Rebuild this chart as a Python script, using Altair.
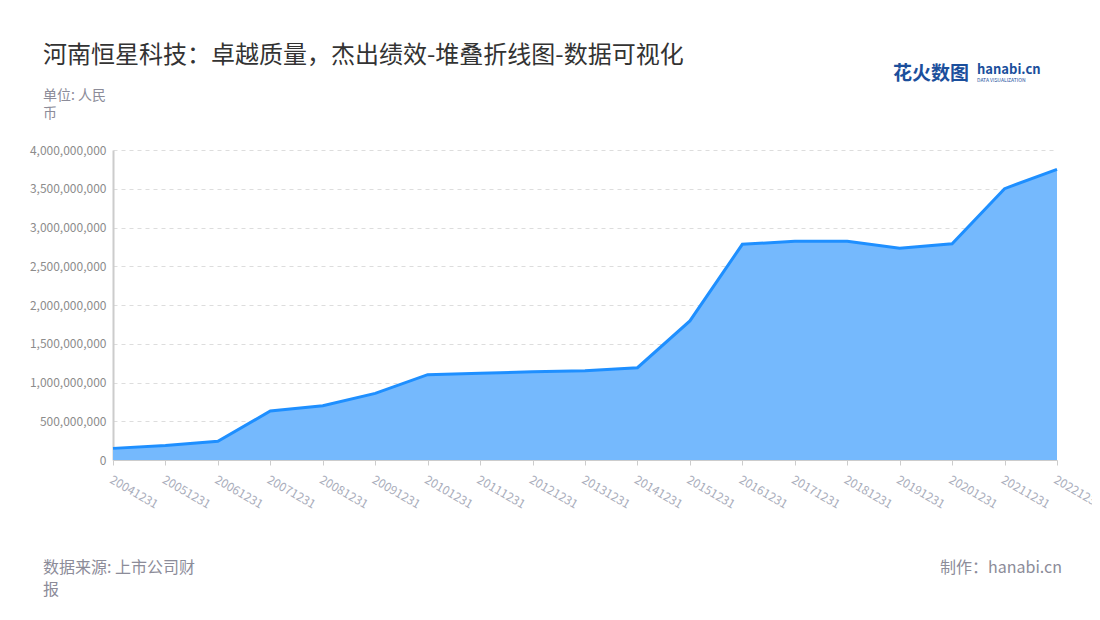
import altair as alt
import pandas as pd

dates = ["20041231", "20051231", "20061231", "20071231", "20081231", "20091231",
         "20101231", "20111231", "20121231", "20131231", "20141231", "20151231",
         "20161231", "20171231", "20181231", "20191231", "20201231", "20211231",
         "20221231"]
values = [150e6, 188e6, 242e6, 632e6, 700e6, 860e6,
          1101e6, 1118e6, 1138e6, 1152e6, 1191e6, 1794e6,
          2783e6, 2822e6, 2824e6, 2731e6, 2791e6, 3501e6,
          3751e6]
y_ticks = [0, 500000000, 1000000000, 1500000000, 2000000000, 2500000000,
           3000000000, 3500000000, 4000000000]

title_text = "河南恒星科技：卓越质量，杰出绩效-堆叠折线图-数据可视化"
unit_lines = ["单位: 人民", "币"]
source_lines = ["数据来源: 上市公司财", "报"]
maker_text = "制作：hanabi.cn"
logo_cn = "花火数图"
logo_en = "hanabi.cn"
logo_sub = "DATA VISUALIZATION"

df = pd.DataFrame({"date": dates, "value": values})

FONT = "Noto Sans CJK SC"
W, H = 944, 310

base = alt.Chart(df).encode(
    x=alt.X("date:O", sort=dates,
            scale=alt.Scale(type="point", padding=0),
            axis=alt.Axis(title=None, labelAngle=30, labelAlign="left", labelBaseline="top",
                          labelFontSize=12, labelColor="#a9adbb", labelFont=FONT,
                          labelPadding=9, tickSize=5, tickColor="#cccccc",
                          domainColor="#cccccc", grid=False, labelOverlap=False,
                          labelBound=False)),
    y=alt.Y("value:Q",
            scale=alt.Scale(domain=[0, 4000000000], nice=False, zero=True),
            axis=alt.Axis(title=None, values=y_ticks, format=",.0f", labelFontSize=12,
                          labelColor="#8c8c8c", labelFont=FONT, labelPadding=7,
                          ticks=False, domainColor="#cccccc", domainWidth=2,
                          grid=True, gridDash=[4, 4], gridColor="#dddddd")),
)

area = base.mark_area(color="#75b9fd", opacity=1)
line = base.mark_line(color="#1e8fff", strokeWidth=3)


def txt(s, x, y, size, color, align="left", weight="normal", baseline="alphabetic"):
    return alt.Chart(pd.DataFrame({"t": [s]})).mark_text(
        align=align, baseline=baseline, fontSize=size, color=color, font=FONT,
        fontWeight=weight
    ).encode(text="t:N", x=alt.value(x), y=alt.value(y))


texts = [
    txt(title_text, -70, -87, 24, "#333333"),
    txt(unit_lines[0], -70, -50, 14, "#8c8c99"),
    txt(unit_lines[1], -70, -32, 14, "#8c8c99"),
    txt(source_lines[0], -70, 423, 16, "#8c8c99"),
    txt(source_lines[1], -70, 445, 16, "#8c8c99"),
    txt(maker_text, 1062 - 113, 423, 16, "#8c8c99", align="right"),
    txt(logo_cn, 893 - 113, -70, 19, "#1b4f9c", weight="bold"),
    txt(logo_en, 977 - 113, -76, 13, "#1b4f9c", weight="bold"),
    txt(logo_sub, 977 - 113, -72, 5, "#1b4f9c", baseline="top"),
]

chart = alt.layer(area, line, *texts).properties(
    width=W, height=H,
    background="white",
    autosize=alt.AutoSizeParams(type="none"),
    padding={"left": 105, "top": 142, "right": 35, "bottom": 148},
).configure_view(strokeWidth=0, stroke="transparent")

chart.save("out.html", embed_options={"renderer": "svg", "actions": False})
